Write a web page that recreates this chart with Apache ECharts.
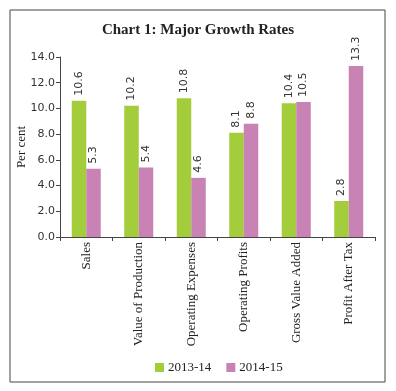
<!DOCTYPE html>
<html><head><meta charset="utf-8">
<script src="https://cdn.jsdelivr.net/npm/echarts@6/dist/echarts.min.js"></script>
<style>html,body{margin:0;padding:0;background:#fff}#c{width:396px;height:391px}</style>
</head><body><div id="c"></div>
<script>
const categories = ["Sales","Value of Production","Operating Expenses","Operating Profits","Gross Value Added","Profit After Tax"];
const series2013_14 = [10.6, 10.2, 10.8, 8.1, 10.4, 2.8];
const series2014_15 = [5.3, 5.4, 4.6, 8.8, 10.5, 13.3];
const seriesNames = ["2013-14", "2014-15"];
const yTicks = [0, 2, 4, 6, 8, 10, 12, 14];

const chart = echarts.init(document.getElementById('c'), null, {renderer: 'canvas'});
const serif = '"Liberation Serif", "DejaVu Serif", serif';
const sans = '"DejaVu Sans", "Liberation Sans", sans-serif';
const labelCfg = {
  show: true, position: 'top', rotate: 90, align: 'left', verticalAlign: 'middle',
  distance: 5, fontFamily: sans, fontSize: 11, color: '#333',
  formatter: p => p.value.toFixed(1)
};
chart.setOption({
  animation: false,
  backgroundColor: '#fff',
  title: {
    text: 'Chart 1: Major Growth Rates', left: 'center', top: 18,
    textStyle: {fontFamily: serif, fontWeight: 'bold', fontSize: 15, color: '#222'}
  },
  graphic: [{
    type: 'rect', shape: {x: 10, y: 10, width: 375, height: 372},
    style: {fill: 'none', stroke: '#444', lineWidth: 1}, silent: true
  }],
  legend: {
    data: seriesNames, left: 150, top: 356, itemWidth: 9, itemHeight: 9, itemGap: 15,
    icon: 'rect',
    textStyle: {fontFamily: serif, fontSize: 13, color: '#222', padding: [0, 0, 0, -1]}
  },
  grid: {left: 60, right: 21, top: 57, bottom: 154, containLabel: false},
  xAxis: {
    type: 'category', data: categories,
    axisLine: {lineStyle: {color: '#444'}},
    axisTick: {show: true, length: 4, lineStyle: {color: '#444'}},
    axisLabel: {rotate: 90, fontFamily: serif, fontSize: 13, color: '#222', margin: 5, interval: 0}
  },
  yAxis: {
    type: 'value', min: yTicks[0], max: yTicks[yTicks.length - 1], interval: 2,
    name: 'Per cent', nameLocation: 'middle', nameGap: 32, nameMoveOverlap: false,
    nameTextStyle: {fontFamily: serif, fontSize: 13, color: '#222'},
    axisLine: {show: true, lineStyle: {color: '#444'}},
    axisTick: {show: true, length: 4, lineStyle: {color: '#444'}},
    splitLine: {show: false},
    axisLabel: {fontFamily: sans, fontSize: 11, color: '#333', margin: 5, formatter: v => v.toFixed(1)}
  },
  series: [
    {name: seriesNames[0], type: 'bar', data: series2013_14, barWidth: 14.5, barGap: '0%',
     itemStyle: {color: '#a3cd3b'}, label: labelCfg},
    {name: seriesNames[1], type: 'bar', data: series2014_15, barWidth: 14.5, barGap: '0%',
     itemStyle: {color: '#c882b4'}, label: labelCfg}
  ]
});
</script></body></html>
